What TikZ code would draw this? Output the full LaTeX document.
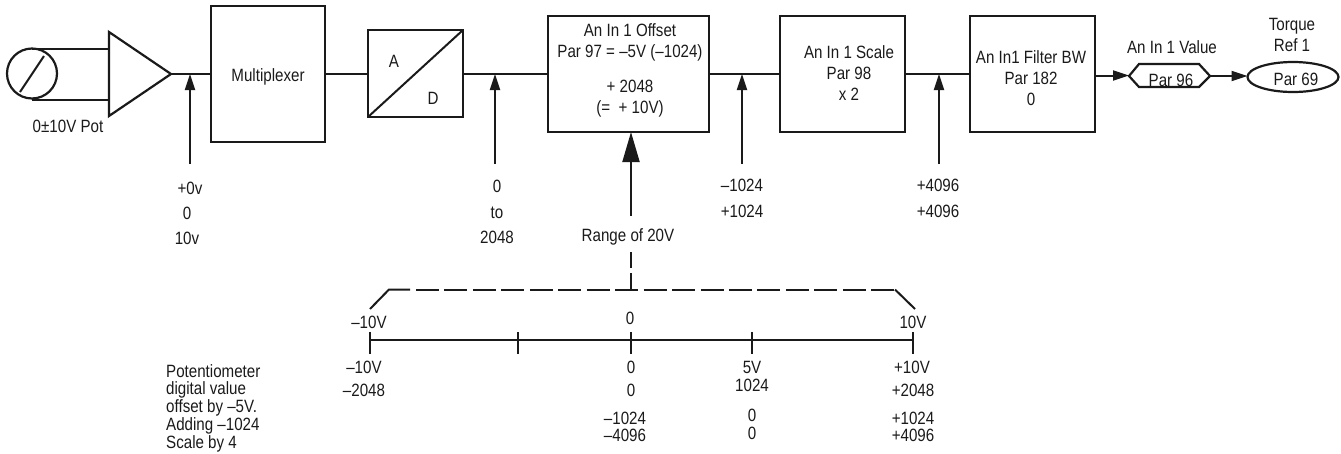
\documentclass[tikz,border=0pt]{standalone}
\usepackage{fontspec}
\setmainfont[FakeStretch=0.85]{Liberation Sans}
\usetikzlibrary{arrows.meta,shapes.geometric}
\definecolor{ink}{HTML}{1A1A1A}
\tikzset{
  wire/.style={line width=2pt,draw=ink},
  arrowline/.style={wire,-{Triangle[length=16pt,width=10pt]}},
  bigarrow/.style={wire,-{Triangle[length=30pt,width=17pt]}},
  blk/.style={draw=ink,line width=2.2pt,rectangle,outer sep=0pt,inner sep=0pt},
  lbl/.style={font=\fontsize{17.8}{20}\selectfont,text=ink,inner sep=0pt,text height=12.8pt,text depth=0pt},
  txt/.style={font=\fontsize{17.8}{21}\selectfont,text=ink,inner sep=0pt,align=center},
  dashline/.style={wire,dash pattern=on 23pt off 5.45pt},
}
\begin{document}
\begin{tikzpicture}[x=1pt,y=-1pt]
\useasboundingbox (0,0) rectangle (1341,453);
% potentiometer and amplifier
\node[circle,draw=ink,line width=2.2pt,minimum size=50pt,inner sep=0pt,outer sep=0pt] (pot) at (32,73.5) {};
\coordinate (slashA) at (20,92);
\coordinate (slashB) at (44,56);
\draw[wire] (slashA) -- (slashB);
\coordinate (ampTop) at (109,32);
\coordinate (ampBot) at (109,116);
\coordinate (ampOut) at (171,74);
\draw[blk,line join=miter] (ampTop) -- (ampOut) -- (ampBot) -- cycle;
\coordinate (ampInA) at (109,48.5);
\coordinate (ampInB) at (109,99.5);
\draw[wire] (pot.north |- ampInA) -- (ampInA);
\draw[wire] (pot.south |- ampInB) -- (ampInB);
\node[lbl] (potlbl) at (68,126) {0±10V Pot};
% blocks
\node[blk,minimum width=114pt,minimum height=136pt] (mux) at (268,74) {};
\node[txt] (muxt) at (268,77) {Multiplexer};
\node[blk,minimum width=95pt,minimum height=87pt] (ad) at (415.5,73.5) {};
\draw[wire] (ad.south west) -- (ad.north east);
\node[lbl] (adA) at (394,61) {A};
\node[lbl] (adD) at (433,98) {D};
\node[blk,minimum width=161pt,minimum height=116pt] (off) at (628.5,74) {};
\node[txt] (offt) at (630,70.5) {An In 1 Offset\\[0pt]Par 97 = –5V (–1024)\\[14pt]+ 2048\\(=\ \ + 10V)};
\node[blk,minimum width=125pt,minimum height=116pt] (scl) at (842.5,74) {};
\node[txt] (sclt) at (849,73) {An In 1 Scale\\Par 98\\x 2};
\node[blk,minimum width=125pt,minimum height=116pt] (flt) at (1032.5,74) {};
\node[txt] (fltt) at (1031,78) {An In1 Filter BW\\Par 182\\0};
% hexagon and ellipse
\coordinate (hexL) at (1129,76);
\coordinate (hexR) at (1210,76);
\draw[blk] (hexL) -- (1139,64) -- (1199,64) -- (hexR) -- (1199,87) -- (1139,87) -- cycle;
\node[lbl] (hext) at (1171,80) {Par 96};
\node[lbl] (hexlbl) at (1172,47) {An In 1 Value};
\node[ellipse,draw=ink,line width=2.2pt,minimum width=91pt,minimum height=30pt,inner sep=0pt,outer sep=0pt] (refx) at (1293,77) {};
\node[lbl] (refn) at (1296,79) {Par 69};
\node[txt] (reft) at (1292,34.5) {Torque\\Ref 1};
% signal path
\draw[wire] (ampOut) -- (mux.west |- ampOut);
\draw[wire] (mux.east |- ampOut) -- (ad.west |- ampOut);
\draw[wire] (ad.east |- ampOut) -- (off.west |- ampOut);
\draw[wire] (off.east) -- (scl.west);
\draw[wire] (scl.east) -- (flt.west);
\coordinate (fltOut) at (1095,75.5);
\draw[arrowline] (fltOut) -- (hexL |- fltOut);
\draw[arrowline] (hexR) -- (refx.west |- hexR);
% probes
\coordinate (pA) at (190,164); \coordinate (pAt) at (190,74);
\coordinate (pB) at (495,164); \coordinate (pBt) at (495,74);
\coordinate (pC) at (742,164); \coordinate (pCt) at (742,74);
\coordinate (pD) at (939,164); \coordinate (pDt) at (939,74);
\draw[arrowline] (pA) -- (pAt);
\draw[arrowline] (pB) -- (pBt);
\draw[arrowline] (pC) -- (pCt);
\draw[arrowline] (pD) -- (pDt);
\node[lbl] (a1) at (190,188) {+0v};
\node[lbl] (a2) at (187,213) {0};
\node[lbl] (a3) at (187,238) {10v};
\node[lbl] (b1) at (497,186) {0};
\node[lbl] (b2) at (497,212) {to};
\node[lbl] (b3) at (497,237) {2048};
\node[lbl] (c1) at (742,185) {–1024};
\node[lbl] (c2) at (742,211) {+1024};
\node[lbl] (d1) at (938,185) {+4096};
\node[lbl] (d2) at (938,211) {+4096};
% range
\coordinate (rng) at (631,216);
\draw[bigarrow] (rng) -- (off.south -| rng);
\node[lbl] (rnglbl) at (628,235) {Range of 20V};
\coordinate (rngB) at (631,252);
\coordinate (brL) at (370,309);
\coordinate (brLc) at (389,289.5);
\coordinate (brLs) at (410,289.5);
\coordinate (brLd) at (416,289.5);
\coordinate (brRc) at (895,289.5);
\coordinate (brR) at (915,309);
\draw[wire] (brL) -- (brLc) -- (brLs);
\draw[dashline] (brLd) -- (brRc);
\draw[wire] (brRc) -- (brR);
\draw[wire,dash pattern=on 16pt off 5pt] (rngB) -- (rngB |- brLc);
% axis
\coordinate (t0) at (370,340);
\coordinate (t1) at (518,340);
\coordinate (t2) at (631,340);
\coordinate (t3) at (752,340);
\coordinate (t4) at (913,340);
\draw[wire] (t0) -- (t4);
\foreach \t in {t0,t1,t2,t3,t4} \draw[wire] ([yshift=8pt]\t) -- ([yshift=-14pt]\t);
\node[lbl] (u0) at (369,322) {–10V};
\node[lbl] (u2) at (630,318) {0};
\node[lbl] (u4) at (913,322) {10V};
\node[lbl] (l01) at (364,367) {–10V};
\node[lbl] (l02) at (364,390) {–2048};
\node[lbl] (l21) at (631,367) {0};
\node[lbl] (l22) at (631,390) {0};
\node[lbl] (l23) at (625,418) {–1024};
\node[lbl] (l24) at (625,435) {–4096};
\node[lbl] (l31) at (752,367) {5V};
\node[lbl] (l32) at (752,385) {1024};
\node[lbl] (l33) at (752,415) {0};
\node[lbl] (l34) at (752,433) {0};
\node[lbl] (l41) at (912,367) {+10V};
\node[lbl] (l42) at (913,390) {+2048};
\node[lbl] (l43) at (913,418) {+1024};
\node[lbl] (l44) at (913,435) {+4096};
\node[txt,align=left,anchor=north west,font=\fontsize{17.8}{17.8}\selectfont] (note) at (166,364) {Potentiometer\\digital value\\offset by –5V.\\Adding –1024\\Scale by 4};
\end{tikzpicture}
\end{document}
